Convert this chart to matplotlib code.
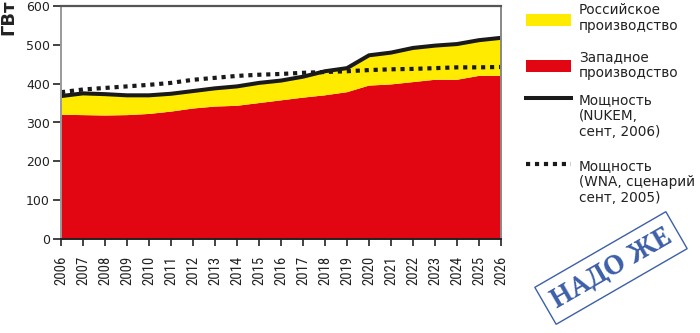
import numpy as np
import matplotlib
matplotlib.use("Agg")
import matplotlib.pyplot as plt
from matplotlib.lines import Line2D
from matplotlib.patches import Rectangle

years = list(range(2006, 2027))
west = [320, 319, 318, 319, 322, 328, 336, 341, 343, 350, 357, 364, 370, 378, 395, 398, 404, 410, 410, 420, 420]
russian = [48, 56, 55, 51, 48, 46, 45, 47, 50, 52, 51, 54, 62, 62, 78, 82, 88, 88, 92, 92, 98]
nukem = [368, 375, 373, 370, 370, 374, 381, 388, 393, 402, 408, 418, 432, 440, 473, 480, 492, 498, 502, 512, 518]
wna = [378, 385, 389, 393, 397, 402, 410, 415, 420, 423, 425, 428, 430, 432, 435, 437, 438, 440, 442, 442, 443]
yticks = [0, 100, 200, 300, 400, 500, 600]

legend_labels = ["Российское\nпроизводство", "Западное\nпроизводство",
                 "Мощность\n(NUKEM,\nсент, 2006)", "Мощность\n(WNA, сценарий\nсент, 2005)"]
ylabel = "ГВт"
stamp = "НАДО ЖЕ"

RED = "#E20613"
YEL = "#FFEB00"
BLK = "#1a1a1a"
BLUE = "#3d5fa8"

W, H = 700, 333
fig = plt.figure(figsize=(7, 3.33), dpi=100)
ax = fig.add_axes([61 / W, 1 - 239 / H, 440 / W, 233 / H])

ax.stackplot(years, west, russian, colors=[RED, YEL], linewidth=0)
ax.plot(years, wna, color=BLK, lw=3.0, linestyle=(0, (1, 1.15)), solid_capstyle="butt",
        dash_capstyle="butt")
ax.plot(years, nukem, color=BLK, lw=2.9, solid_joinstyle="round")

ax.set_xlim(2006, 2026)
ax.set_ylim(0, 600)
ax.set_xticks(years)
ax.set_xticklabels([str(y) for y in years], rotation=90,
                   fontfamily=["Roboto Condensed", "DejaVu Sans"], fontsize=10.5, color="#222")
ax.set_yticks(yticks)
ax.set_yticklabels([str(v) for v in yticks], fontfamily="DejaVu Sans", fontsize=9, color="#222")
ax.tick_params(axis="x", direction="out", length=5, width=1.2, pad=7, color="#222")
ax.tick_params(axis="y", direction="out", length=6, width=1.2, pad=2, color="#222")

ax.spines["left"].set_color("#999999")
ax.spines["left"].set_linewidth(1.4)
ax.spines["top"].set_color("#555555")
ax.spines["top"].set_linewidth(1.6)
ax.spines["right"].set_color("#888888")
ax.spines["right"].set_linewidth(1.4)
ax.spines["bottom"].set_color("#222222")
ax.spines["bottom"].set_linewidth(1.4)
for sp in ax.spines.values():
    sp.set_zorder(5)

fig.text(8 / W, 1 - 17 / H, ylabel, rotation=90, ha="center", va="center",
         fontsize=13, fontweight="bold", color="#222", fontfamily="DejaVu Sans")


def fx(px):
    return px / W


def fy(py):
    return 1 - py / H


fig.patches.append(Rectangle((fx(526), fy(26)), 45 / W, 12 / H, transform=fig.transFigure,
                             facecolor=YEL, edgecolor="none"))
fig.patches.append(Rectangle((fx(526), fy(72)), 45 / W, 12 / H, transform=fig.transFigure,
                             facecolor=RED, edgecolor="none"))
fig.lines.append(Line2D([fx(526), fx(571)], [fy(98), fy(98)], transform=fig.transFigure,
                        color=BLK, lw=2.9))
fig.lines.append(Line2D([fx(526), fx(571)], [fy(164), fy(164)], transform=fig.transFigure,
                        color=BLK, lw=3.0, linestyle=(0, (1, 1.15)), dash_capstyle="butt"))

tops = [3, 50, 93, 159]
for lab, t in zip(legend_labels, tops):
    fig.text(fx(579), fy(t), lab, ha="left", va="top", fontsize=9.8, color="#222",
             fontfamily="DejaVu Sans", linespacing=1.2)

fig.text(fx(611), fy(268), stamp, rotation=30, rotation_mode="anchor", ha="center", va="center",
         fontsize=20, fontweight="bold", color=BLUE, fontfamily=["PT Serif", "DejaVu Serif"],
         bbox=dict(boxstyle="square,pad=0.3", fc="none", ec=BLUE, lw=1.0))

fig.savefig("out.png", dpi=100)
